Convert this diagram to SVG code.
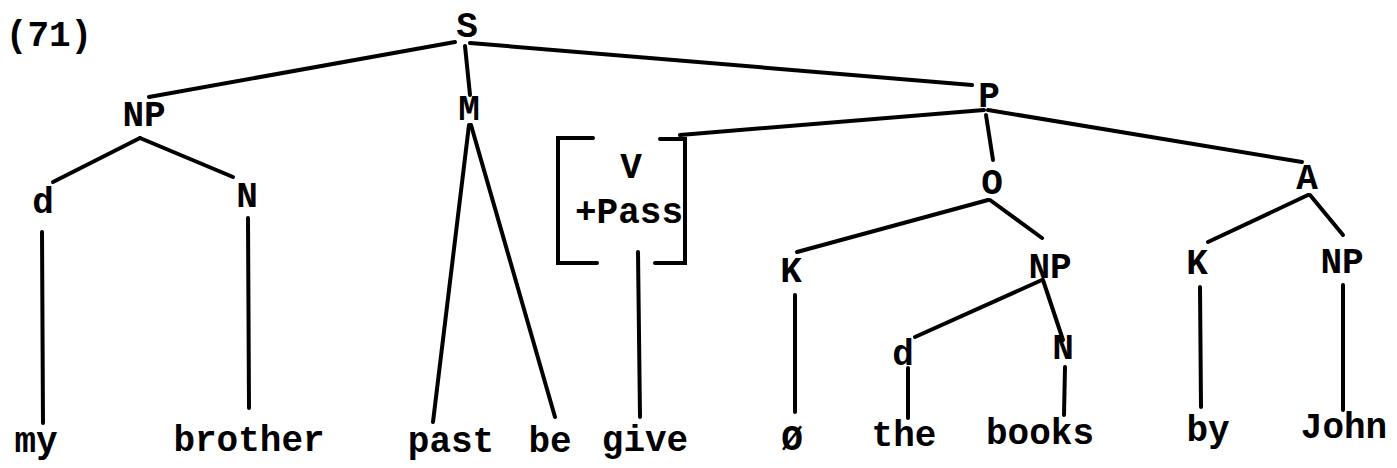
<svg xmlns="http://www.w3.org/2000/svg" width="1397" height="468" viewBox="0 0 1397 468">
<style>
text{font-family:"Liberation Mono","DejaVu Sans Mono",monospace;font-size:36px;font-weight:bold;fill:#000;text-anchor:middle}
line,polyline{stroke:#000;stroke-width:4;stroke-linecap:round;fill:none}
</style>
<rect width="1397" height="468" fill="#fff"/>
<text x="49" y="46">(71)</text>
<g id="S"><text x="467" y="37">S</text></g>
<g id="NP1"><text x="144" y="126">NP</text></g>
<g id="M"><text x="469" y="120">M</text></g>
<g id="P"><text x="989" y="107">P</text></g>
<g id="d1"><text x="43" y="213">d</text></g>
<g id="N1"><text x="247" y="207">N</text></g>
<g id="V"><text x="631" y="178">V</text><text x="629" y="223">+Pass</text>
<polyline points="593,138 558,138 558,263 597,263"/>
<polyline points="660,139 685,139 685,263 655,263"/>
</g>
<g id="O"><text x="992" y="194">O</text></g>
<g id="A"><text x="1307" y="189">A</text></g>
<g id="K1"><text x="791" y="282">K</text></g>
<g id="NP2"><text x="1050" y="278">NP</text></g>
<g id="K2"><text x="1197" y="274">K</text></g>
<g id="NP3"><text x="1342" y="273">NP</text></g>
<g id="d2"><text x="903" y="365">d</text></g>
<g id="N2"><text x="1063" y="359">N</text></g>
<g id="my"><text x="36" y="452">my</text></g>
<g id="brother"><text x="249" y="451">brother</text></g>
<g id="past"><text x="451" y="452">past</text></g>
<g id="be"><text x="550" y="452">be</text></g>
<g id="give"><text x="645" y="451">give</text></g>
<g id="null"><text x="792" y="450">Ø</text></g>
<g id="the"><text x="904" y="446">the</text></g>
<g id="books"><text x="1040" y="444">books</text></g>
<g id="by"><text x="1208" y="441">by</text></g>
<g id="John"><text x="1344" y="438">John</text></g>
<g id="connectors">
<line x1="455" y1="42" x2="149" y2="97"/>
<line x1="465" y1="46" x2="470" y2="95"/>
<line x1="470" y1="43" x2="972" y2="85"/>
<line x1="140" y1="138" x2="53" y2="182"/>
<line x1="140" y1="138" x2="233" y2="177"/>
<line x1="42" y1="232" x2="43" y2="423"/>
<line x1="248" y1="218" x2="249" y2="408"/>
<line x1="469" y1="125" x2="433" y2="422"/>
<line x1="471" y1="125" x2="555" y2="417"/>
<line x1="680" y1="135" x2="984" y2="110"/>
<line x1="638" y1="252" x2="640" y2="417"/>
<line x1="986" y1="115" x2="993" y2="160"/>
<line x1="988" y1="110" x2="1302" y2="162"/>
<line x1="988" y1="200" x2="797" y2="252"/>
<line x1="990" y1="200" x2="1042" y2="238"/>
<line x1="795" y1="295" x2="795" y2="412"/>
<line x1="1042" y1="280" x2="915" y2="337"/>
<line x1="1043" y1="280" x2="1063" y2="340"/>
<line x1="908" y1="368" x2="908" y2="418"/>
<line x1="1065" y1="367" x2="1064" y2="415"/>
<line x1="1308" y1="195" x2="1208" y2="242"/>
<line x1="1310" y1="195" x2="1343" y2="235"/>
<line x1="1200" y1="287" x2="1201" y2="407"/>
<line x1="1343" y1="285" x2="1343" y2="410"/>
</g>
</svg>
